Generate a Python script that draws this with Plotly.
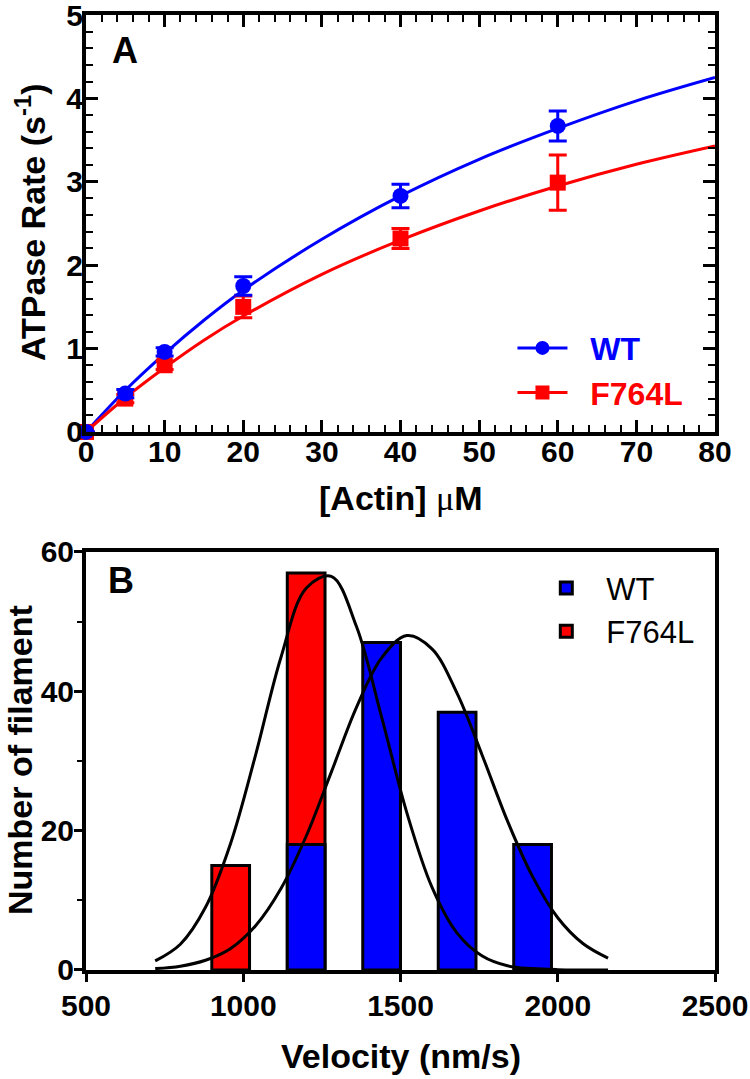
import plotly.graph_objects as go

# Panel A: actin-activated ATPase
actin = [0, 5, 10, 20, 40, 60]
wt_rate = [0, 0.46, 0.96, 1.75, 2.83, 3.67]
wt_err = [0, 0.05, 0.05, 0.11, 0.14, 0.18]
f764l_rate = [0, 0.40, 0.80, 1.50, 2.32, 2.99]
f764l_err = [0, 0.05, 0.05, 0.13, 0.12, 0.33]

# fitted curves
fit_x = [0, 5, 10, 15, 20, 30, 40, 50, 60, 70, 80]
wt_fit = [0, 0.50, 0.94, 1.34, 1.70, 2.31, 2.83, 3.27, 3.64, 3.97, 4.25]
f764l_fit = [0, 0.41, 0.77, 1.10, 1.39, 1.89, 2.30, 2.65, 2.95, 3.21, 3.43]

# Panel B: velocity histogram
vel_bins = [960, 1200, 1440, 1680, 1920]
wt_counts = [0, 18, 47, 37, 18]
f764l_counts = [15, 57, 0, 0, 0]

gauss_x = [720, 800, 880, 960, 1040, 1120, 1200, 1280, 1360, 1440,
           1520, 1600, 1680, 1760, 1840, 1920, 2000, 2080, 2160]
wt_gauss = [0.2, 0.55, 1.4, 3.1, 6.4, 11.7, 19.2, 28.4, 37.7, 44.8,
            48.0, 46.1, 39.7, 30.8, 21.4, 13.4, 7.5, 3.8, 1.7]
f764l_gauss = [1.3, 3.7, 9.0, 18.2, 31.0, 44.9, 54.8, 56.5, 49.3, 36.3,
               22.6, 11.9, 5.3, 2.0, 0.6, 0.2, 0.05, 0.01, 0.0]

BLUE = "#0000ff"
RED = "#ff0000"
FONT = "Liberation Sans, Arial, sans-serif"

fig = go.Figure()

# --- panel A
fig.add_trace(go.Scatter(x=fit_x, y=wt_fit, mode="lines", line=dict(color=BLUE, width=3, shape="spline"),
                         showlegend=False, cliponaxis=False, xaxis="x", yaxis="y"))
fig.add_trace(go.Scatter(x=fit_x, y=f764l_fit, mode="lines", line=dict(color=RED, width=3, shape="spline"),
                         showlegend=False, cliponaxis=False, xaxis="x", yaxis="y"))
fig.add_trace(go.Scatter(
    x=actin, y=f764l_rate, mode="markers",
    marker=dict(color=RED, symbol="square", size=16),
    error_y=dict(type="data", array=f764l_err, color=RED, thickness=3, width=9),
    showlegend=False, cliponaxis=False, xaxis="x", yaxis="y"))
fig.add_trace(go.Scatter(
    x=actin, y=wt_rate, mode="markers",
    marker=dict(color=BLUE, symbol="circle", size=16),
    error_y=dict(type="data", array=wt_err, color=BLUE, thickness=3, width=9),
    showlegend=False, cliponaxis=False, xaxis="x", yaxis="y"))

# legend entries (line + marker)
fig.add_trace(go.Scatter(x=[None], y=[None], mode="lines+markers",
                         name="&nbsp;&nbsp;<span style='color:#0000ff'>WT</span>",
                         line=dict(color=BLUE, width=3), marker=dict(color=BLUE, size=14, symbol="circle"),
                         legend="legend", legendgroup="a1", legendrank=1, xaxis="x", yaxis="y"))
fig.add_trace(go.Scatter(x=[None], y=[None], mode="lines+markers",
                         name="&nbsp;&nbsp;<span style='color:#ff0000'>F764L</span>",
                         line=dict(color=RED, width=3), marker=dict(color=RED, size=14, symbol="square"),
                         legend="legend", legendgroup="a2", legendrank=2, xaxis="x", yaxis="y"))

# --- panel B
fig.add_trace(go.Bar(
    x=[b for b, c in zip(vel_bins, f764l_counts) if c],
    y=[c for c in f764l_counts if c],
    width=120, name="F764L", marker=dict(color=RED, line=dict(color="black", width=3)),
    legend="legend2", legendgroup="b2", legendrank=2, xaxis="x2", yaxis="y2"))
fig.add_trace(go.Bar(
    x=[b for b, c in zip(vel_bins, wt_counts) if c],
    y=[c for c in wt_counts if c],
    width=120, name="WT", marker=dict(color=BLUE, line=dict(color="black", width=3)),
    legend="legend2", legendgroup="b1", legendrank=1, xaxis="x2", yaxis="y2"))
fig.add_trace(go.Scatter(x=gauss_x, y=f764l_gauss, mode="lines", line=dict(color="black", width=3, shape="spline"),
                         showlegend=False, xaxis="x2", yaxis="y2"))
fig.add_trace(go.Scatter(x=gauss_x, y=wt_gauss, mode="lines", line=dict(color="black", width=3, shape="spline"),
                         showlegend=False, xaxis="x2", yaxis="y2"))

tickfont = dict(family=FONT, size=30, color="black", weight="bold")
titlefont = dict(family=FONT, size=34, color="black", weight="bold")
axis_common = dict(showline=True, linewidth=4, linecolor="black", showgrid=False, zeroline=False,
                   tickfont=tickfont, tickcolor="black", automargin=False, ticklabeloverflow="allow")


def axis_title(text, x, y, angle=0):
    return dict(text=text, x=x, y=y, xref="paper", yref="paper", showarrow=False, textangle=angle,
                xanchor="center", yanchor="middle", font=titlefont)


fig.update_layout(
    width=750, height=1079,
    margin=dict(l=86, r=35, t=15, b=109),
    plot_bgcolor="white", paper_bgcolor="white",
    font=dict(family=FONT, color="black"),
    barmode="overlay",
    xaxis=dict(axis_common, domain=[0, 1], anchor="y", range=[0, 80], tick0=0, dtick=10,
               ticks="inside", ticklen=12, tickwidth=3, mirror="ticks", ticklabelstandoff=-10,
               minor=dict(dtick=2, ticks="inside", ticklen=7, tickwidth=2, tickcolor="black")),
    yaxis=dict(axis_common, domain=[0.5634, 1], anchor="x", range=[0, 5], tick0=0, dtick=1,
               ticks="inside", ticklen=12, tickwidth=3, mirror="ticks", ticklabelstandoff=-7,
               minor=dict(dtick=0.2, ticks="inside", ticklen=7, tickwidth=2, tickcolor="black")),
    xaxis2=dict(axis_common, domain=[0, 1], anchor="y2", range=[500, 2500], tick0=500, dtick=500,
                ticks="outside", ticklen=8, tickwidth=3, mirror=True, ticklabelstandoff=-2),
    yaxis2=dict(axis_common, domain=[0, 0.4377], anchor="x2", range=[0, 60], tick0=0, dtick=20,
                ticks="outside", ticklen=8, tickwidth=3, mirror=True, ticklabelstandoff=-6,
                minor=dict(dtick=10, ticks="outside", ticklen=5, tickwidth=2, tickcolor="black")),
    legend=dict(x=0.678, y=0.68, xanchor="left", yanchor="top", bgcolor="rgba(0,0,0,0)",
                font=dict(family=FONT, size=32, weight="bold"), itemwidth=50,
                traceorder="normal", tracegroupgap=4),
    legend2=dict(x=0.70, y=0.428, xanchor="left", yanchor="top", bgcolor="rgba(0,0,0,0)",
                 font=dict(family=FONT, size=31, color="black"), itemwidth=70,
                 traceorder="normal", tracegroupgap=18),
    annotations=[
        dict(text="A", x=0.062, y=0.914, xref="x domain", yref="y domain", showarrow=False,
             xanchor="center", yanchor="middle", font=dict(family=FONT, size=36, weight="bold")),
        dict(text="B", x=0.056, y=0.932, xref="x2 domain", yref="y2 domain", showarrow=False,
             xanchor="center", yanchor="middle", font=dict(family=FONT, size=36, weight="bold")),
        axis_title("[Actin] <span style='font-family:Liberation Serif;font-weight:normal'>μ</span>M",
                   0.5, 0.4942),
        axis_title("ATPase Rate (s<sup>-1</sup>)", -0.089, 0.7832, -90),
        axis_title("Velocity (nm/s)", 0.5, -0.0901),
        axis_title("Number of filament", -0.1049, 0.2199, -90),
    ],
)

# drop the default 8px page margin so the figure fills the window exactly
fig.write_html("out.html", config={"displayModeBar": False},
               post_script="document.body.style.margin='0';document.body.style.overflow='hidden';")
